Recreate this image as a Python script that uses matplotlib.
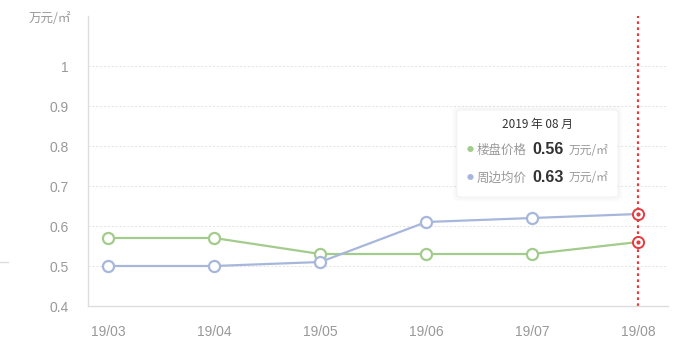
import numpy as np
import matplotlib.pyplot as plt
from matplotlib.patches import FancyBboxPatch

plt.rcParams['font.family'] = ['Noto Sans CJK SC', 'DejaVu Sans']

months = ['19/03', '19/04', '19/05', '19/06', '19/07', '19/08']
loupan = [0.57, 0.57, 0.53, 0.53, 0.53, 0.56]
zhoubian = [0.50, 0.50, 0.51, 0.61, 0.62, 0.63]
yticks = [0.4, 0.5, 0.6, 0.7, 0.8, 0.9, 1]

green = '#a3cb8c'
blue = '#a7b7dc'
red = '#e8393d'
gray = '#999999'

fig = plt.figure(figsize=(6.9, 3.61), dpi=100)
W, H = 690, 361
ax = fig.add_axes([88 / W, 1 - 306 / H, 580 / W, 290 / H])

x = np.arange(len(months))
for vals, c in [(loupan, green), (zhoubian, blue)]:
    ax.plot(x, vals, color=c, lw=1.6, zorder=3)
    ax.plot(x[:-1], vals[:-1], 'o', ms=8, mfc='white', mec=c, mew=1.6, zorder=4)
    ax.plot(x[-1], vals[-1], 'o', ms=8, mfc='white', mec=red, mew=1.4, zorder=5)
    ax.plot(x[-1], vals[-1], 'o', ms=2, color=red, zorder=6)

ax.axvline(x[-1], color=red, lw=1.6, ls=(0, (1.2, 1.5)), zorder=2)

ax.set_xlim(-0.19, 5.28)
ax.set_ylim(0.4, 1.125)
ax.set_yticks(yticks)
ax.set_yticklabels(['0.4', '0.5', '0.6', '0.7', '0.8', '0.9', '1'])
ax.set_xticks(x)
ax.set_xticklabels(months)
ax.tick_params(axis='both', length=0, colors=gray, labelsize=10)
ax.tick_params(axis='x', pad=14)
ax.tick_params(axis='y', pad=14)
for t in ax.get_yticklabels() + ax.get_xticklabels():
    t.set_family('Liberation Sans')
for y in yticks[1:]:
    ax.axhline(y, color='#e3e3e3', lw=0.7, ls=(0, (2, 2)), zorder=1)
for s in ['top', 'right']:
    ax.spines[s].set_visible(False)
for s in ['left', 'bottom']:
    ax.spines[s].set_color('#dddddd')
    ax.spines[s].set_linewidth(1)

fig.text(50 / W, 1 - 18 / H, '万元/㎡', fontsize=9, color=gray, ha='center', va='center')

# stray tick at left edge
fig.add_artist(plt.Line2D([0, 8 / W], [1 - 262 / H, 1 - 262 / H], color='#dddddd', lw=1))

# tooltip soft shadow + box
for i in range(3):
    d = (3 - i) * 1.5
    sh = FancyBboxPatch(((457 - d) / W, 1 - (197 + d) / H), (161 + 2 * d) / W, (87 + 2 * d) / H,
                        boxstyle='round,pad=0,rounding_size=0.01',
                        transform=fig.transFigure, fc='black', ec='none', alpha=0.012, zorder=9)
    fig.add_artist(sh)
box = FancyBboxPatch((457 / W, 1 - 197 / H), 161 / W, 87 / H,
                     boxstyle='round,pad=0,rounding_size=0.008',
                     transform=fig.transFigure, fc='white', ec='#f3f3f3', lw=0.6, zorder=10)
fig.add_artist(box)
fig.text(537 / W, 1 - 124 / H, '2019 年 08 月', fontsize=8.5, color='#333333',
         ha='center', va='center', zorder=11)
rows = [('楼盘价格', '0.56', green, 150), ('周边均价', '0.63', blue, 178)]
for name, val, c, yy in rows:
    fy = 1 - yy / H
    fig.text(470 / W, fy, '●', fontsize=5, color=c, ha='center', va='center', zorder=11)
    fig.text(477 / W, fy, name, fontsize=9, color=gray, ha='left', va='center', zorder=11)
    fig.text(532 / W, fy, val, fontsize=11.5, color='#333333', fontweight='bold',
             ha='left', va='center', zorder=11, family='Liberation Sans')
    fig.text(569 / W, fy, '万元/㎡', fontsize=8.5, color=gray, ha='left', va='center', zorder=11)

fig.savefig('out.png', dpi=100)
